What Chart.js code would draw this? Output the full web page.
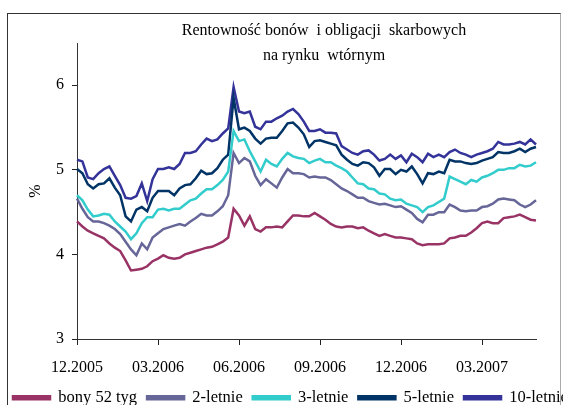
<!DOCTYPE html>
<html>
<head>
<meta charset="utf-8">
<script src="https://cdn.jsdelivr.net/npm/chart.js@4"></script>
<style>
  html, body { margin:0; padding:0; background:#fff; overflow:hidden; }
  #wrap { position:relative; width:600px; height:420px; }
  #frame { position:absolute; left:7px; top:13px; width:554px; height:420px;
           border:1px solid #333; border-right-color:#aaa; box-sizing:border-box; }
  #title { position:absolute; left:164px; width:320px; top:17px; text-align:center;
           font:16px 'Liberation Serif', serif; line-height:25px; color:#000; white-space:pre; }
  #chart { position:absolute; left:0; top:0; }
</style>
</head>
<body>
<div id="wrap">
  <div id="frame"></div>
  <canvas id="chart" width="600" height="420"></canvas>
  <div id="title">Rentowność bonów  i obligacji  skarbowych
na rynku  wtórnym</div>
</div>
<script>
// tick labels, one every 15 observations (quarter)
const tickLabels = ['12.2005', '03.2006', '06.2006', '09.2006', '12.2006', '03.2007'];
const perQuarter = 15;

const bony52 = [4.39,4.33,4.28,4.25,4.22,4.19,4.13,4.08,4.04,3.93,
  3.81,3.82,3.83,3.86,3.92,3.95,3.99,3.96,3.95,3.96,
  4.00,4.02,4.04,4.06,4.08,4.09,4.12,4.15,4.20,4.54,
  4.46,4.34,4.45,4.30,4.27,4.32,4.32,4.33,4.32,4.39,
  4.46,4.46,4.45,4.45,4.49,4.45,4.41,4.36,4.33,4.32,
  4.33,4.33,4.31,4.32,4.28,4.25,4.22,4.24,4.22,4.20,
  4.20,4.19,4.18,4.13,4.11,4.12,4.12,4.12,4.13,4.19,
  4.20,4.22,4.22,4.26,4.31,4.37,4.39,4.37,4.37,4.43,
  4.44,4.45,4.47,4.44,4.41,4.40];

const letnie2 = [4.66,4.54,4.44,4.39,4.39,4.37,4.34,4.30,4.24,4.15,
  4.06,3.99,4.13,4.06,4.20,4.25,4.30,4.32,4.34,4.36,
  4.34,4.39,4.43,4.48,4.46,4.46,4.51,4.57,4.70,5.20,
  5.08,5.14,5.10,4.93,4.82,4.89,4.84,4.79,4.91,5.01,
  4.96,4.96,4.95,4.91,4.92,4.91,4.91,4.88,4.83,4.78,
  4.75,4.71,4.67,4.67,4.63,4.61,4.59,4.60,4.58,4.56,
  4.57,4.53,4.49,4.42,4.38,4.47,4.47,4.50,4.50,4.59,
  4.56,4.52,4.51,4.52,4.52,4.56,4.57,4.60,4.65,4.66,
  4.65,4.64,4.59,4.56,4.59,4.64];

const letnie3 = [4.70,4.64,4.53,4.45,4.46,4.48,4.47,4.39,4.33,4.27,
  4.18,4.25,4.37,4.44,4.44,4.53,4.54,4.52,4.54,4.54,
  4.59,4.64,4.66,4.72,4.77,4.77,4.82,4.88,4.98,5.46,
  5.34,5.36,5.22,5.10,4.98,5.12,5.07,5.04,5.13,5.20,
  5.16,5.14,5.13,5.08,5.11,5.13,5.09,5.09,5.05,5.02,
  4.98,4.91,4.84,4.83,4.78,4.77,4.72,4.71,4.66,4.64,
  4.65,4.60,4.58,4.56,4.50,4.56,4.58,4.62,4.66,4.92,
  4.89,4.86,4.83,4.88,4.86,4.91,4.93,4.96,5.00,5.00,
  5.02,5.02,5.06,5.04,5.05,5.09];

const letnie5 = [5.01,4.96,4.83,4.78,4.83,4.84,4.90,4.79,4.70,4.45,
  4.39,4.53,4.56,4.51,4.67,4.75,4.75,4.75,4.70,4.78,
  4.82,4.83,4.90,4.99,4.95,4.96,5.02,5.12,5.18,5.85,
  5.48,5.50,5.46,5.37,5.31,5.37,5.38,5.38,5.46,5.55,
  5.56,5.50,5.42,5.27,5.34,5.35,5.33,5.31,5.29,5.18,
  5.12,5.07,5.05,5.09,5.08,5.03,4.93,5.01,5.01,4.95,
  5.00,4.98,5.04,4.95,4.84,4.96,4.95,4.98,4.96,5.12,
  5.10,5.10,5.08,5.07,5.08,5.11,5.13,5.15,5.21,5.20,
  5.20,5.22,5.25,5.21,5.25,5.27];

const letnie10 = [5.12,5.10,4.91,4.89,4.96,5.01,5.04,4.93,4.82,4.67,
  4.66,4.69,4.84,4.63,4.89,5.01,5.01,5.03,5.01,5.07,
  5.20,5.20,5.22,5.30,5.37,5.34,5.36,5.43,5.49,5.98,
  5.69,5.67,5.69,5.51,5.48,5.57,5.57,5.61,5.64,5.69,
  5.72,5.66,5.57,5.46,5.46,5.48,5.44,5.44,5.43,5.28,
  5.24,5.20,5.18,5.22,5.23,5.18,5.11,5.13,5.18,5.13,
  5.17,5.09,5.19,5.15,5.09,5.19,5.15,5.18,5.15,5.21,
  5.24,5.20,5.18,5.15,5.18,5.20,5.22,5.25,5.33,5.30,
  5.30,5.31,5.33,5.30,5.36,5.30];

const labels = bony52.map((_, i) => i % perQuarter === 0 ? tickLabels[i / perQuarter] : '');

const serif = 'Liberation Serif';
const line = (label, data, color) => ({
  label, data, borderColor: color, backgroundColor: color,
  borderWidth: 2.5, pointRadius: 0, tension: 0, fill: false
});

new Chart(document.getElementById('chart'), {
  type: 'line',
  data: {
    labels,
    datasets: [
      line('bony 52 tyg', bony52, '#993366'),
      line('2-letnie', letnie2, '#666699'),
      line('3-letnie', letnie3, '#33cccc'),
      line('5-letnie', letnie5, '#003366'),
      line('10-letnie', letnie10, '#333399')
    ]
  },
  options: {
    animation: false, responsive: false,
    layout: { padding: { left: 3, top: 43, right: 0, bottom: 4 } },
    plugins: {
      title: { display: false },
      tooltip: { enabled: false },
      legend: {
        position: 'bottom', align: 'start',
        labels: { color: '#000', font: { family: serif, size: 16.5 }, boxWidth: 37, boxHeight: 3, padding: 10 }
      }
    },
    scales: {
      x: {
        type: 'category', offset: false,
        grid: { display: true, drawOnChartArea: false, tickLength: 6, color: '#222' },
        border: { color: '#333' },
        ticks: { autoSkip: false, maxRotation: 0, padding: 13, color: '#000',
                 font: { family: serif, size: 16 },
                 callback: (v) => labels[v] },
        afterBuildTicks: (a) => { a.ticks = a.ticks.filter(t => t.value % perQuarter === 0); },
        afterFit: (a) => { a.height = 40.5; }
      },
      y: {
        min: 3, max: 6.5,
        grid: { display: true, drawOnChartArea: false, tickLength: 5, color: '#222' },
        border: { color: '#333' },
        ticks: { stepSize: 1, padding: 8, color: '#000', font: { family: serif, size: 16 } },
        afterBuildTicks: (a) => { a.ticks = a.ticks.filter(t => Number.isInteger(t.value)); },
        title: { display: true, text: '%', color: '#000', font: { family: serif, size: 16 }, padding: { top: 23, bottom: 0 } },
        afterFit: (a) => { a.width = 74; }
      },
      pad: {
        position: 'right', display: true,
        grid: { display: false }, border: { display: false }, ticks: { display: false },
        afterFit: (a) => { a.width = 64; }
      }
    }
  }
});
</script>
</body>
</html>
